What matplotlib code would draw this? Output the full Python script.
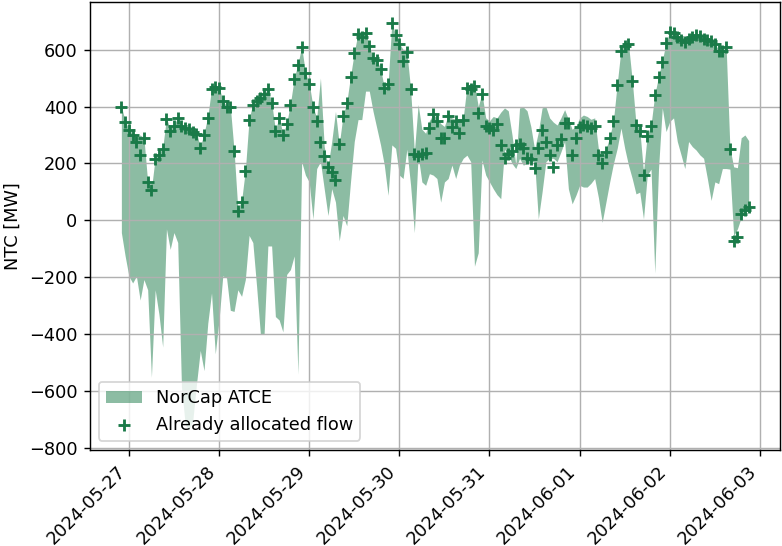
import matplotlib
matplotlib.use("Agg")
import matplotlib.pyplot as plt
import matplotlib.dates as mdates
import pandas as pd
import numpy as np

start_time = "2024-05-26 22:00"
n_hours = 168

allocated = [
    400, 345, 318, 300, 277, 230, 289, 135, 107, 215, 230, 250,
    355, 315, 330, 360, 330, 325, 320, 310, 305, 253, 300, 360,
    460, 470, 466, 419, 400, 398, 244, 34, 64, 173, 354, 407,
    419, 431, 443, 460, 413, 315, 360, 300, 338, 407, 496, 547,
    608, 516, 480, 398, 350, 277, 227, 188, 170, 141, 267, 366,
    413, 504, 587, 656, 644, 658, 611, 570, 563, 531, 464, 478,
    693, 650, 620, 559, 590, 460, 232, 227, 232, 235, 324, 372,
    348, 291, 291, 366, 327, 348, 306, 354, 464, 460, 472, 378,
    443, 330, 324, 318, 338, 263, 218, 232, 244, 263, 267, 253,
    218, 215, 185, 253, 318, 275, 230, 188, 265, 286, 342, 342,
    230, 291, 327, 336, 330, 324, 330, 230, 200, 241, 289, 350,
    476, 596, 614, 618, 490, 334, 315, 161, 295, 330, 440, 502,
    555, 622, 661, 658, 644, 632, 626, 638, 644, 650, 646, 638,
    634, 630, 620, 596, 596, 608, 251, -72, -60, 22, 35, 48,
]

atce_upper = [
    400, 350, 320, 305, 290, 300, 290, 135, 110, 220, 235, 255,
    360, 320, 335, 362, 335, 330, 322, 315, 308, 258, 305, 365,
    462, 475, 470, 420, 402, 400, 246, 40, 68, 176, 356, 410,
    421, 433, 445, 462, 415, 318, 362, 303, 340, 410, 498, 550,
    610, 518, 482, 400, 360, 500, 260, 190, 277, 383, 267, 368,
    415, 506, 590, 658, 646, 660, 613, 572, 565, 533, 466, 480,
    695, 652, 622, 600, 592, 462, 240, 407, 320, 306, 350, 372,
    360, 340, 330, 370, 360, 355, 345, 360, 472, 470, 480, 400,
    445, 360, 350, 365, 360, 380, 395, 385, 300, 195, 395, 398,
    385, 330, 250, 310, 395, 400, 360, 345, 335, 360, 389, 355,
    320, 330, 360, 370, 365, 355, 360, 250, 210, 250, 292, 352,
    480, 600, 618, 620, 492, 340, 320, 170, 300, 335, 442, 505,
    560, 625, 663, 660, 646, 634, 628, 640, 646, 652, 648, 640,
    636, 632, 622, 598, 598, 610, 255, 188, 185, 290, 300, 280,
]

atce_lower = [
    -43, -125, -196, -220, -196, -280, -208, -244, -551, -244, -330, -445,
    -30, -102, -43, -78, -586, -717, -735, -705, -575, -457, -528, -362,
    -255, -469, -350, -195, -202, -316, -320, -244, -267, -208, -53, -78,
    -232, -398, -398, -90, -90, -338, -350, -392, -190, -173, -125, -540,
    206, 159, 135, 5, 182, 206, 111, 17, 111, 64, -72, 17,
    -19, 135, 277, 354, 354, 454, 454, 383, 324, 265, 194, 88,
    265, 253, 159, 147, 250, 123, -43, 229, 135, 123, 164, 159,
    147, 64, 135, 147, 194, 147, 194, 218, 229, 206, -161, -114,
    212, 159, 135, 111, 90, 76, 250, 230, 200, 182, 218, 194,
    200, 206, 206, 5, 100, 206, 218, 218, 206, 240, 277, 111,
    58, 88, 123, 117, 117, 130, 147, 80, -7, 64, 135, 200,
    253, 324, 253, 194, 147, 93, 99, 5, 159, 180, -185, 182,
    395, 312, 348, 360, 277, 230, 182, 277, 259, 247, 230, 218,
    147, 70, 135, 129, 182, 182, 180, -54, -30, 10, 25, 40,
]

times = pd.date_range(start_time, periods=n_hours, freq="h")

green = "#1a7a48"
scale = 1.28

fig = plt.figure(figsize=(7.82 / scale, 5.46 / scale), dpi=100 * scale)
ax = fig.add_axes([0.1151, 0.176, 0.8824, 0.820])

ax.fill_between(times, atce_lower, atce_upper, color=green, alpha=0.5,
                linewidth=0, label="NorCap ATCE")
ax.scatter(times, allocated, marker="+", s=50, linewidths=1.6, color=green,
           label="Already allocated flow", zorder=3)

ax.set_ylabel("NTC [MW]")
ax.grid(True)
ax.xaxis.set_major_locator(mdates.DayLocator())
ax.xaxis.set_major_formatter(mdates.DateFormatter("%Y-%m-%d"))
plt.setp(ax.get_xticklabels(), rotation=45, ha="right")
ax.legend(loc="lower left")

fig.savefig("out.png", dpi=100 * scale)
